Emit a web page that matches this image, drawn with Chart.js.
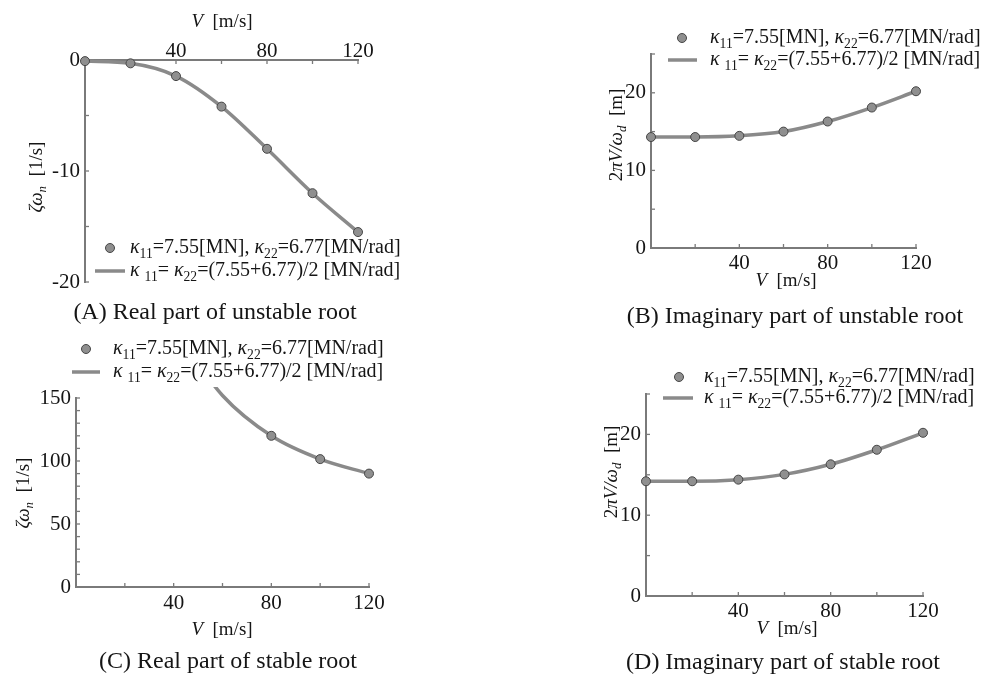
<!DOCTYPE html>
<html>
<head>
<title>Roots vs speed</title>
<script src="https://cdn.jsdelivr.net/npm/chart.js"></script>
<style>
  body { margin: 0; background: #fff; }
  #wrap { position: relative; width: 981px; height: 677px; }
  #wrap canvas { position: absolute; left: 0; top: 0; }
</style>
</head>
<body>
<div id="wrap">
  <canvas id="chartA" width="981" height="677"></canvas>
  <canvas id="chartB" width="981" height="677"></canvas>
  <canvas id="chartC" width="981" height="677"></canvas>
  <canvas id="chartD" width="981" height="677"></canvas>
</div>
<script>
// speeds V [m/s]
const speeds = [0, 20, 40, 60, 80, 100, 120];
const xTickLabels = [40, 80, 120];

// (A) real part of unstable root
const unstableRealPts = [-0.1, -0.3, -1.45, -4.2, -8.0, -12.0, -15.5];
const unstableRealLine = [-0.1, -0.3, -1.45, -4.2, -8.0, -12.0, -15.5];
const yTickLabelsA = [0, -10, -20];

// (B) imaginary part of unstable root
const unstableImagPts = [14.3, 14.3, 14.45, 15.0, 16.3, 18.1, 20.2];
const unstableImagLine = [14.3, 14.3, 14.45, 15.0, 16.3, 18.1, 20.2];
const yTickLabelsB = [0, 10, 20];

// (C) real part of stable root
const stableSpeedsPts = [80, 100, 120];
const stableRealPts = [120, 101.5, 90];
const stableSpeedsLine = [40, 60, 80, 100, 120];
const stableRealLine = [205, 152, 120, 101.5, 90];
const yTickLabelsC = [0, 50, 100, 150];

// (D) imaginary part of stable root
const stableImagPts = [14.2, 14.2, 14.4, 15.05, 16.3, 18.1, 20.2];
const stableImagLine = [14.2, 14.2, 14.4, 15.05, 16.3, 18.1, 20.2];

const SERIF = '"Liberation Serif", "Times New Roman", serif';
const INK = '#151515';
const AXIS = '#7a7a7a';
const DOT_FILL = '#8f8f8f';
const DOT_EDGE = '#464646';
const LINE = '#8a8a8a';

const legend1 = [['κ', 'i'], ['11', 's'], ['=7.55[MN], '], ['κ', 'i'], ['22', 's'], ['=6.77[MN/rad]']];
const legend2 = [['κ ', 'i'], ['11', 's'], ['= '], ['κ', 'i'], ['22', 's'], ['=(7.55+6.77)/2 [MN/rad]']];
const titleV = [['V', 'i'], ['  [m/s]']];
const titleZeta = [['ζω', 'i'], ['n', 'is'], ['  [1/s]']];
const titleLambda = [['2'], ['πV/ω', 'i'], ['d', 'is'], ['  [m]']];

const xy = (xs, ys) => xs.map((x, i) => ({ x: x, y: ys[i] }));

function runFont(size, f) {
  const sz = f.includes('s') ? size * 0.68 : size;
  return (f.includes('i') ? 'italic ' : '') + sz + 'px ' + SERIF;
}

function drawRich(ctx, runs, x, y, size, align, rotate) {
  ctx.save();
  ctx.translate(x, y);
  if (rotate) ctx.rotate(rotate);
  ctx.textBaseline = 'middle';
  ctx.textAlign = 'left';
  ctx.fillStyle = INK;
  let w = 0;
  runs.forEach(([t, f = '']) => { ctx.font = runFont(size, f); w += ctx.measureText(t).width; });
  let cx = align === 'center' ? -w / 2 : 0;
  runs.forEach(([t, f = '']) => {
    ctx.font = runFont(size, f);
    ctx.fillText(t, cx, f.includes('s') ? size * 0.3 : 0);
    cx += ctx.measureText(t).width;
  });
  ctx.restore();
}

// inward tick marks, legend and all the free text of a panel
const panelDecor = {
  id: 'panelDecor',
  beforeDatasetsDraw(chart) {
    const ctx = chart.ctx, a = chart.chartArea;
    ctx.save();
    ctx.strokeStyle = AXIS;
    ctx.lineWidth = 1.3;
    Object.values(chart.scales).forEach(s => {
      s.ticks.forEach(t => {
        const p = s.getPixelForValue(t.value);
        ctx.beginPath();
        if (s.isHorizontal()) {
          const y0 = s.position === 'top' ? a.top : a.bottom;
          ctx.moveTo(p, y0);
          ctx.lineTo(p, y0 + (s.position === 'top' ? 4 : -4));
        } else {
          ctx.moveTo(a.left, p);
          ctx.lineTo(a.left + 4, p);
        }
        ctx.stroke();
      });
    });
    ctx.restore();
  },
  afterDraw(chart, args, opts) {
    const ctx = chart.ctx;
    const lg = opts.legend;
    const dots = chart.data.datasets[0], line = chart.data.datasets[1];
    ctx.save();
    ctx.beginPath();
    ctx.arc(lg.dotX, lg.y1, dots.pointRadius, 0, Math.PI * 2);
    ctx.fillStyle = dots.pointBackgroundColor;
    ctx.fill();
    ctx.lineWidth = dots.pointBorderWidth;
    ctx.strokeStyle = dots.pointBorderColor;
    ctx.stroke();
    ctx.beginPath();
    ctx.moveTo(lg.lineX1, lg.y2);
    ctx.lineTo(lg.lineX2, lg.y2);
    ctx.lineWidth = line.borderWidth;
    ctx.strokeStyle = line.borderColor;
    ctx.stroke();
    ctx.restore();
    drawRich(ctx, legend1, lg.textX, lg.y1, 20, 'left');
    drawRich(ctx, legend2, lg.textX, lg.y2, 20, 'left');
    opts.texts.forEach(t => drawRich(ctx, t.runs, t.x, t.y, t.size, 'center', t.rotate));
  }
};

function makePanel(id, p) {
  const tickFont = { family: SERIF, size: 21 };
  return new Chart(document.getElementById(id), {
    type: 'line',
    data: {
      datasets: [{
        data: p.points,
        showLine: false,
        pointRadius: 4.5,
        pointBackgroundColor: DOT_FILL,
        pointBorderColor: DOT_EDGE,
        pointBorderWidth: 1,
        clip: false
      }, {
        data: p.line,
        borderColor: LINE,
        borderWidth: 3.5,
        pointRadius: 0,
        cubicInterpolationMode: 'monotone',
        fill: false,
        clip: p.lineClip || false
      }]
    },
    options: {
      responsive: false,
      animation: false,
      events: [],
      layout: { padding: p.padding },
      plugins: {
        legend: { display: false },
        tooltip: { enabled: false },
        panelDecor: { legend: p.legend, texts: p.texts }
      },
      scales: {
        x: {
          type: 'linear',
          position: p.xPos,
          min: 0, max: 120,
          afterFit: s => { s.height = 30; },
          grid: { display: true, drawOnChartArea: false, drawTicks: false },
          border: { display: true, color: AXIS, width: 2 },
          ticks: {
            stepSize: 20, autoSkip: false, maxRotation: 0, padding: p.xPad,
            font: tickFont, color: INK,
            callback: v => xTickLabels.includes(v) ? String(v) : ''
          }
        },
        y: {
          min: p.yMin, max: p.yMax,
          afterFit: s => { s.width = 40; },
          grid: { display: true, drawOnChartArea: false, drawTicks: false },
          border: { display: true, color: AXIS, width: 2 },
          ticks: {
            stepSize: p.yStep, autoSkip: false, padding: 5,
            font: tickFont, color: INK,
            callback: v => p.yLabels.includes(v) ? String(v) : ''
          }
        }
      }
    },
    plugins: [panelDecor]
  });
}

// area A: left 85, right 358, top 60, bottom 282
makePanel('chartA', {
  points: xy(speeds, unstableRealPts),
  line: xy(speeds, unstableRealLine),
  xPos: 'top', xPad: -4, yMin: -20, yMax: 0, yStep: 5, yLabels: yTickLabelsA,
  padding: { left: 45, right: 623, top: 30, bottom: 395 },
  legend: { dotX: 110, lineX1: 95, lineX2: 125, textX: 130, y1: 248, y2: 271 },
  texts: [
    { runs: titleV, x: 222, y: 22, size: 19 },
    { runs: titleZeta, x: 37, y: 177, size: 19, rotate: -Math.PI / 2 },
    { runs: [['(A) Real part of unstable root']], x: 215, y: 313, size: 24 }
  ]
});

// area B: left 651, right 916, top 54, bottom 248
makePanel('chartB', {
  points: xy(speeds, unstableImagPts),
  line: xy(speeds, unstableImagLine),
  xPos: 'bottom', xPad: 3, yMin: 0, yMax: 25, yStep: 5, yLabels: yTickLabelsB,
  padding: { left: 611, right: 65, top: 54, bottom: 399 },
  legend: { dotX: 682, lineX1: 668, lineX2: 697, textX: 710, y1: 38, y2: 60 },
  texts: [
    { runs: titleV, x: 786, y: 281, size: 19 },
    { runs: titleLambda, x: 617, y: 135, size: 19, rotate: -Math.PI / 2 },
    { runs: [['(B) Imaginary part of unstable root']], x: 795, y: 317, size: 24 }
  ]
});

// area C: left 76, right 369, top 398, bottom 587
makePanel('chartC', {
  points: xy(stableSpeedsPts, stableRealPts),
  line: xy(stableSpeedsLine, stableRealLine),
  lineClip: { left: 0, top: 11, right: 0, bottom: 0 },
  xPos: 'bottom', xPad: 4, yMin: 0, yMax: 150, yStep: 10, yLabels: yTickLabelsC,
  padding: { left: 36, right: 612, top: 398, bottom: 60 },
  legend: { dotX: 86, lineX1: 72, lineX2: 100, textX: 113, y1: 349, y2: 372 },
  texts: [
    { runs: titleV, x: 222, y: 630, size: 19 },
    { runs: titleZeta, x: 24, y: 493, size: 19, rotate: -Math.PI / 2 },
    { runs: [['(C) Real part of stable root']], x: 228, y: 662, size: 24 }
  ]
});

// area D: left 646, right 923, top 394, bottom 596
makePanel('chartD', {
  points: xy(speeds, stableImagPts),
  line: xy(speeds, stableImagLine),
  xPos: 'bottom', xPad: 3, yMin: 0, yMax: 25, yStep: 5, yLabels: yTickLabelsB,
  padding: { left: 606, right: 58, top: 394, bottom: 51 },
  legend: { dotX: 679, lineX1: 663, lineX2: 693, textX: 704, y1: 377, y2: 398 },
  texts: [
    { runs: titleV, x: 787, y: 629, size: 19 },
    { runs: titleLambda, x: 612, y: 472, size: 19, rotate: -Math.PI / 2 },
    { runs: [['(D) Imaginary part of stable root']], x: 783, y: 663, size: 24 }
  ]
});
</script>
</body>
</html>
